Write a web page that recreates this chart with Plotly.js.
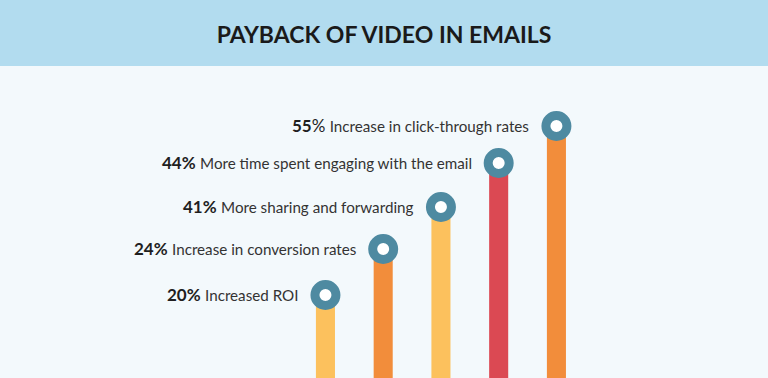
<!DOCTYPE html>
<html>
<head>
<meta charset="utf-8">
<script src="https://cdn.plot.ly/plotly-3.0.1.min.js"></script>
<style>html,body{margin:0;padding:0;background:#f3f9fc;}#chart{width:768px;height:378px;}</style>
</head>
<body>
<div id="chart"></div>
<script>
// Data
const categories = ["Increased ROI", "Increase in conversion rates", "More sharing and forwarding", "More time spent engaging with the email", "Increase in click-through rates"];
const percents = [20, 24, 41, 44, 55];
// bar heights as drawn in the picture (visual level, arbitrary units)
const levels = [83, 129, 171, 215, 252];
const barColors = ["#fcc15d", "#f28d3b", "#fcc15d", "#db4953", "#f28d3b"];
const boldPercentSign = [true, true, true, true, false];

const idx = categories.map((c, i) => i);

const bars = {
  type: "bar",
  x: idx,
  y: levels,
  width: 0.33,
  marker: {color: barColors, line: {width: 0}},
  hoverinfo: "skip"
};
const rings = {
  type: "scatter",
  mode: "markers",
  x: idx,
  y: levels,
  marker: {size: 21, color: "#ffffff", line: {color: "#4e8aa1", width: 9}},
  hoverinfo: "skip",
  cliponaxis: false
};

const annotations = categories.map((c, i) => ({
  x: idx[i], y: levels[i], xref: "x", yref: "y",
  xanchor: "right", yanchor: "middle", xshift: -25, yshift: 1,
  showarrow: false,
  text: (boldPercentSign[i]
    ? "<b>" + percents[i] + "%</b>"
    : "<b>" + percents[i] + "</b>%") +
    " <span style='font-size:15.2px;color:#333333'>" + c + "</span>",
  font: {family: "Lato", size: 17, color: "#1f1f1f"}
}));

const layout = {
  width: 768, height: 378,
  margin: {l: 0, r: 0, t: 66, b: 0},
  paper_bgcolor: "#b2dcef",
  plot_bgcolor: "#f3f9fc",
  title: {
    text: "<b>PAYBACK OF VIDEO IN EMAILS</b>",
    font: {family: "Lato", size: 23, color: "#1a1a1a"},
    x: 0.5, xanchor: "center", y: 1 - 35/378, yanchor: "middle", yref: "container"
  },
  xaxis: {range: [-5.636, 7.664], visible: false, fixedrange: true},
  yaxis: {range: [0, 312], visible: false, fixedrange: true},
  showlegend: false,
  annotations: annotations
};

Plotly.newPlot("chart", [bars, rings], layout, {displayModeBar: false, staticPlot: true});
</script>
</body>
</html>
